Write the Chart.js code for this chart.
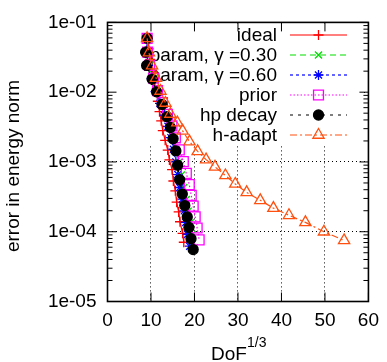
<!DOCTYPE html>
<html lang="en">
<head>
<meta charset="UTF-8">
<title>error in energy norm vs DoF^(1/3)</title>
<script src="https://cdn.jsdelivr.net/npm/chart.js"></script>
<style>
  html, body { margin: 0; padding: 0; background: #fff; }
  #wrap { width: 387px; height: 362px; }
</style>
</head>
<body>
<div id="wrap"><canvas id="c" width="387" height="362"></canvas></div>
<script>
const FONT = '"Liberation Sans", Arial, sans-serif';

const xTicks = [0, 10, 20, 30, 40, 50, 60];
const yTicks = [1e-5, 1e-4, 1e-3, 1e-2, 1e-1];

const seriesNames = ['ideal', 'param, \u03b3 =0.30', 'param, \u03b3 =0.60', 'prior', 'hp decay', 'h-adapt'];

const idealX = [9.11, 9.45, 9.79, 10.25, 10.71, 11.16, 11.57, 11.96, 12.35, 12.71, 13.26, 13.85, 14.24, 14.85, 15.15, 15.6, 15.9, 16.36, 16.67, 17.27, 17.54];
const idealY = [0.0591, 0.0419, 0.0294, 0.0206, 0.0147, 0.0105, 0.00741, 0.00526, 0.00389, 0.00282, 0.00204, 0.00148, 0.00107, 7.75e-4, 5.33e-4, 3.86e-4, 2.65e-4, 1.92e-4, 1.39e-4, 9.5e-5, 7.06e-5];

const param30X = [9.11, 9.11, 9.45, 10.48, 11.39, 12.41, 13.55, 14.46, 15.15, 15.83, 16.4, 16.97, 17.54, 18.11, 18.56, 19.02, 19.48, 19.93];
const param30Y = [0.0591, 0.0372, 0.0241, 0.0157, 0.0103, 0.00685, 0.00465, 0.00320, 0.00221, 0.00150, 9.9e-4, 6.5e-4, 4.3e-4, 2.9e-4, 1.97e-4, 1.34e-4, 9.1e-5, 5.9e-5];

const param60X = [9.11, 8.99, 9.34, 10.14, 11.05, 12.07, 13.1, 13.9, 14.58, 15.15, 15.72, 16.17, 16.63, 17.2, 17.65, 17.99, 18.45, 18.91];
const param60Y = [0.0591, 0.0376, 0.0243, 0.0156, 0.0102, 0.00692, 0.00470, 0.00324, 0.00223, 0.00152, 1.0e-3, 6.6e-4, 4.3e-4, 2.93e-4, 1.99e-4, 1.36e-4, 9.2e-5, 6.2e-5];

const priorX = [9.11, 9.23, 9.68, 10.59, 11.5, 12.64, 13.78, 14.81, 15.6, 16.51, 17.43, 18.12, 18.8, 19.25, 19.7, 20.16, 20.61, 21.07];
const priorY = [0.0591, 0.0374, 0.0242, 0.0159, 0.0105, 0.00711, 0.00482, 0.00328, 0.00222, 0.00149, 0.00101, 6.86e-4, 4.73e-4, 3.32e-4, 2.33e-4, 1.63e-4, 1.13e-4, 7.65e-5];

const hpX = [9.11, 8.77, 9.0, 10.25, 11.28, 12.53, 13.67, 14.46, 15.08, 15.72, 16.13, 16.59, 17.2, 17.77, 18.34, 18.72, 19.2, 19.7];
const hpY = [0.0591, 0.0374, 0.0242, 0.0154, 0.0101, 0.00667, 0.00445, 0.00312, 0.00215, 0.00144, 9.0e-4, 5.56e-4, 3.46e-4, 2.37e-4, 1.63e-4, 1.15e-4, 7.96e-5, 5.55e-5];

const hadaptX = [9.11, 9.52, 10.25, 11.16, 12.19, 13.33, 14.46, 16.06, 17.27, 18.86, 20.73, 22.67, 24.72, 27.11, 29.38, 32.0, 35.13, 38.15, 41.73, 45.51, 49.77, 54.4];
const hadaptY = [0.0591, 0.0368, 0.0240, 0.0159, 0.0104, 0.0070, 0.00487, 0.00367, 0.00279, 0.00196, 0.00142, 0.00108, 8.5e-4, 6.4e-4, 4.84e-4, 3.66e-4, 2.82e-4, 2.18e-4, 1.72e-4, 1.36e-4, 1.0e-4, 7.5e-5];

function pts(xs, ys) {
    return xs.map((x, i) => ({ x: x, y: ys[i] }));
}

// one style per series, gnuplot-like
const styles = [
    { color: '#ff0000', dash: [], point: 'cross', r: 5, fill: 'rgba(0,0,0,0)' },
    { color: '#00dd00', dash: [6, 4], point: 'crossRot', r: 5, fill: 'rgba(0,0,0,0)' },
    { color: '#0000ff', dash: [3, 3], point: 'star', r: 5, fill: 'rgba(0,0,0,0)' },
    { color: '#ff00ff', dash: [1.5, 2], point: 'rect', r: 7, fill: 'rgba(0,0,0,0)' },
    { color: '#000000', dash: [3, 5], point: 'circle', r: 5, fill: '#000000' },
    { color: '#ff5010', dash: [7, 3, 2, 3], point: 'triangle', r: 6.5, fill: 'rgba(0,0,0,0)' }
];
const seriesData = [
    pts(idealX, idealY), pts(param30X, param30Y), pts(param60X, param60Y),
    pts(priorX, priorY), pts(hpX, hpY), pts(hadaptX, hadaptY)
];

const datasets = seriesData.map((d, i) => ({
    label: seriesNames[i],
    data: d,
    order: 5 - i,
    borderColor: styles[i].color,
    borderWidth: 1.2,
    borderDash: styles[i].dash,
    pointStyle: styles[i].point,
    pointRadius: styles[i].r,
    pointBorderWidth: 1.3,
    pointBorderColor: styles[i].color,
    pointBackgroundColor: styles[i].fill,
    fill: false,
    tension: 0
}));

// white key box + text + samples, below the data like the original
const keyPlugin = {
    id: 'key',
    beforeDatasetsDraw(chart) {
        const ctx = chart.ctx;
        ctx.save();
        ctx.fillStyle = '#fff';
        ctx.fillRect(110, 24, 253, 121);
        ctx.font = '19px ' + FONT;
        ctx.textAlign = 'right';
        ctx.textBaseline = 'middle';
        seriesNames.forEach((name, i) => {
            const y = 35 + 20 * i;
            ctx.fillStyle = '#000';
            ctx.fillText(name, 277, y + 1);
            const s = styles[i];
            ctx.strokeStyle = s.color;
            ctx.lineWidth = 1.2;
            ctx.setLineDash(s.dash);
            ctx.beginPath();
            ctx.moveTo(290, y);
            ctx.lineTo(347, y);
            ctx.stroke();
            ctx.setLineDash([]);
            ctx.fillStyle = s.fill;
            ctx.lineWidth = 1.3;
            Chart.helpers.drawPoint(ctx, { pointStyle: s.point, radius: s.r, rotation: 0, borderWidth: 1.3 }, 318.5, y);
        });
        ctx.restore();
    }
};

// frame, mirrored ticks, log minor ticks and axis titles
const framePlugin = {
    id: 'frame',
    afterDraw(chart) {
        const ctx = chart.ctx;
        const a = chart.chartArea;
        const xs = chart.scales.x, ys = chart.scales.y;
        ctx.save();
        ctx.strokeStyle = '#000';
        ctx.lineWidth = 1;
        ctx.beginPath();
        xTicks.forEach(v => {
            const px = xs.getPixelForValue(v);
            ctx.moveTo(px, a.bottom); ctx.lineTo(px, a.bottom - 9);
            ctx.moveTo(px, a.top); ctx.lineTo(px, a.top + 9);
        });
        yTicks.forEach((v, k) => {
            const py = ys.getPixelForValue(v);
            ctx.moveTo(a.left, py); ctx.lineTo(a.left + 9, py);
            ctx.moveTo(a.right, py); ctx.lineTo(a.right - 9, py);
            if (k < yTicks.length - 1) {
                for (let m = 2; m <= 9; m++) {
                    const pm = ys.getPixelForValue(v * m);
                    ctx.moveTo(a.left, pm); ctx.lineTo(a.left + 5, pm);
                    ctx.moveTo(a.right, pm); ctx.lineTo(a.right - 5, pm);
                }
            }
        });
        ctx.stroke();
        ctx.lineWidth = 1.6;
        ctx.strokeRect(a.left, a.top, a.right - a.left, a.bottom - a.top);

        ctx.fillStyle = '#000';
        ctx.textBaseline = 'alphabetic';
        ctx.textAlign = 'left';
        ctx.font = '19px ' + FONT;
        ctx.fillText('DoF', 211, 360);
        ctx.font = '14px ' + FONT;
        ctx.fillText('1/3', 247, 347);

        ctx.translate(19, 166);
        ctx.rotate(-Math.PI / 2);
        ctx.textAlign = 'center';
        ctx.font = '19px ' + FONT;
        ctx.fillText('error in energy norm', 0, 0);
        ctx.restore();
    }
};

const gridColor = ctx => {
    const v = ctx.tick ? ctx.tick.value : null;
    return (v === 0 || v === 60 || v === 1e-5 || v === 1e-1) ? 'rgba(0,0,0,0)' : '#000';
};

new Chart(document.getElementById('c'), {
    type: 'line',
    data: { datasets: datasets },
    options: {
        responsive: false,
        devicePixelRatio: 1,
        animation: false,
        layout: { padding: { left: 0, right: 15, top: 16, bottom: 0 } },
        plugins: { legend: { display: false }, tooltip: { enabled: false } },
        scales: {
            x: {
                type: 'linear',
                min: 0,
                max: 60,
                afterBuildTicks: s => { s.ticks = xTicks.map(v => ({ value: v })); },
                afterFit: s => { s.height = 60.5; },
                grid: { color: gridColor, lineWidth: 1, drawTicks: false },
                border: { display: false, dash: [1, 3] },
                ticks: { color: '#000', font: { family: FONT, size: 19 }, padding: 8, maxRotation: 0 }
            },
            y: {
                type: 'logarithmic',
                min: 1e-5,
                max: 1e-1,
                afterBuildTicks: s => { s.ticks = yTicks.map(v => ({ value: v })); },
                afterFit: s => { s.width = 107.5; },
                grid: { color: gridColor, lineWidth: 1, drawTicks: false },
                border: { display: false, dash: [1, 3] },
                ticks: {
                    color: '#000',
                    font: { family: FONT, size: 19 },
                    padding: 11,
                    callback: v => '1e-' + String(Math.round(-Math.log10(v))).padStart(2, '0')
                }
            }
        }
    },
    plugins: [keyPlugin, framePlugin]
});
</script>
</body>
</html>
